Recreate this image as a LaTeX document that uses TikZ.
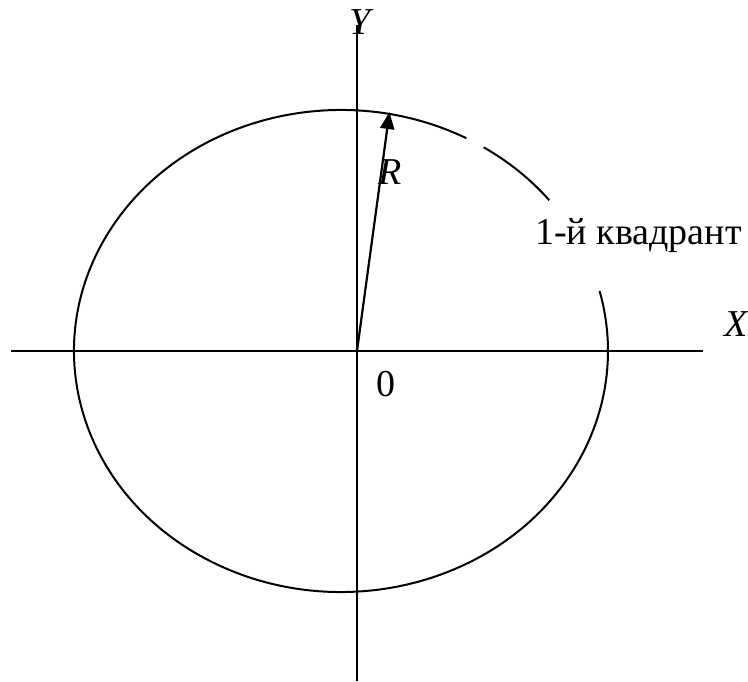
\documentclass[tikz,border=0pt]{standalone}
\usepackage{fontspec}
\setmainfont{Liberation Serif}
\usetikzlibrary{arrows.meta,calc}
\begin{document}
\begin{tikzpicture}[x=1pt,y=1pt,
  axis/.style={line width=2pt},
  curve/.style={line width=2pt},
  lbl/.style={font=\fontsize{38}{44}\selectfont\itshape, inner sep=0pt, anchor=base},
  txt/.style={font=\fontsize{38}{44}\selectfont, inner sep=0pt}]
\useasboundingbox (0,0) rectangle (748,681);
\coordinate (E) at (341,330);
\coordinate (O) at (357,330);
\coordinate (xl) at (11,330);
\coordinate (xr) at (703,330);
\coordinate (yt) at (357,656);
\coordinate (yb) at (357,0);
\draw[axis] (xl) -- (xr);
\draw[axis] (yb) -- (yt);
% ellipse with two gaps
\draw[curve] ($(E)+({267*cos(62)},{241*sin(62)})$) arc[start angle=62, end angle=374.4, x radius=267, y radius=241];
\draw[curve] ($(E)+({267*cos(38.7)},{241*sin(38.7)})$) arc[start angle=38.7, end angle=57.7, x radius=267, y radius=241];
\coordinate (R) at (389.5,569);
\draw[line width=2.2pt, -{Triangle[length=17pt,width=14pt]}] (O) -- (R);
\node[lbl] (Ylab) at (360,646) {Y};
\node[lbl] (Xlab) at (736,344) {X};
\node[lbl] (Rlab) at (390,496) {R};
\node[txt, anchor=base] (zero) at (386,284) {0};
\node[txt, anchor=base west] (quad) at (535,436) {1-й квадрант};
\end{tikzpicture}
\end{document}
